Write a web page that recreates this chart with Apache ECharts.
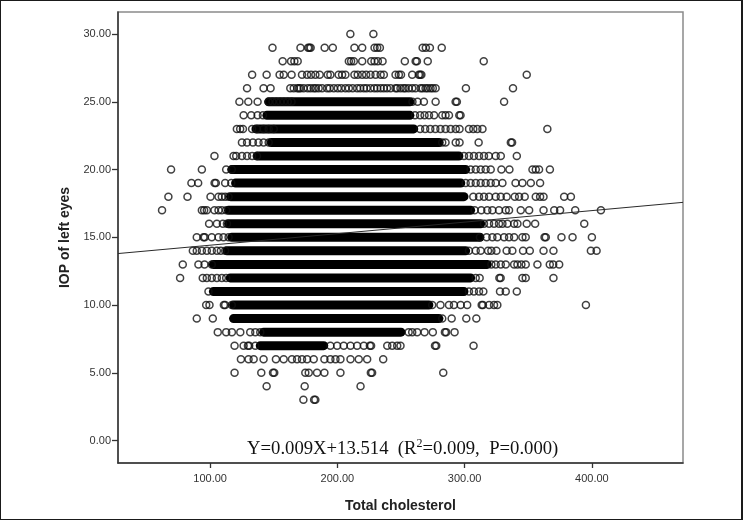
<!DOCTYPE html>
<html><head><meta charset="utf-8">
<script src="https://cdn.jsdelivr.net/npm/echarts@6/dist/echarts.min.js"></script>
<style>html,body{margin:0;padding:0;background:#fff}#c{width:743px;height:520px}#f{position:absolute;left:0;top:0;width:743px;height:520px;box-sizing:border-box;border:solid #1a1a1a;border-width:1px 2px 1px 1px;pointer-events:none}</style>
</head><body><div id="c"></div><div id="f"></div>
<script>
const xTicks=[100,200,300,400];
const yTicks=[0,5,10,15,20,25,30];
const fitX=[27.6,471.6];
const fitY=[13.8,17.58];
const bandLevels=[25,24,23,22,21,20,19,18,17,16,15,14,13,12,11,10,9,8,7];
const bandStarts=[146,144.6,136,148,137,117,120,116,114.5,114.5,117,113.2,102.6,115.8,102.6,118.4,118.4,142,139.4];
const bandEnds=[257,257,260,280,295.5,300.8,297,299.5,304.7,312.6,312,300.8,317.8,304.7,299.5,271.9,279.8,250,189.3];
const row30=[210.2,228.3];
const row29=[149,171,177,178,179,190,196.4,213.4,219.5,229.2,231.3,233.4,267,269.5,272.7,282];
const row28=[157,163.6,166.2,168.8,209,210.8,212.9,219.5,226.6,229.2,231.8,235.5,253,261.5,262.5,271,315];
const row27=[133,144.4,154.6,157.8,164,172.2,176.2,179.3,182.7,186.1,192.4,194.5,201,203.7,206.3,213.4,216,219.5,222.6,226,230,234,236.5,245.7,248.3,250,258.8,264,265,266,348.8];
const row26=[129,142,147.5,163,165.7,168.5,169.8,171,173.5,176.7,179,181.4,183,185.3,188,191.9,194,197.2,200.3,203,206.3,209,212,215.5,218,220.8,223,226,229,231.3,234,236.5,239,241.8,245.7,247,249.6,252,253.5,256,258.8,261.4,265.4,267,269.3,271,273.2,275,277.2,301,338];
const row25=[123,130,137.3,146,149,152,155,158,161,164,259,263,268,277.2,292.9,293.9,331];
const row24=[126.3,132.3,137.3,141.5,261,265,268.5,272,276,282.4,285,287.7,295.8,296.8];
const row23=[121,123.6,125.8,133,136.8,142,146,150,265,269,273,277,281,285,289,293,296,303.4,306.8,310,314,365];
const row22=[125,129,133.6,138,142,146,282.4,285,293,296,311,336.3,337.3];
const row21=[103.4,118.4,120.5,125,129,133,136.8,299.5,303.4,307.3,311.3,315.2,319,324.4,328.4,341];
const row20=[69.3,93.5,112.6,117,304.7,308.7,312.6,316.5,320.5,328.9,335.2,353.3,355.9,358.5,367];
const row19=[85.3,90.6,103.5,104.5,111.8,116.6,300.8,304.7,308.7,312.6,316.5,320.5,324.4,329.7,340,345.4,352,359.3];
const row18=[67.2,82.2,100.3,106.6,109.2,111.8,114.5,306.8,311.3,315.2,319.2,324.4,328.4,333,339.4,342.8,347.2,355.9,359.3,362,378.2,383.5];
const row17=[62.2,93.5,95.3,97.4,103.4,106.6,109.2,112.6,307.9,313.1,317.8,321.8,327,332.3,334.9,344.1,350.7,362,370.4,375,386.9,407.1];
const row16=[99.2,105.3,110,113.2,315.2,319.2,323.1,327,329.7,333.6,338.9,341.5,348.8,355.4,394];
const row15=[89.5,94.8,95.8,101.3,106.6,110.5,114.5,312,317.3,321.8,325.7,331,334.9,338.9,345.4,348,362.8,363.8,376.1,384.8,400];
const row14=[86.4,89.5,93.5,97.4,101.3,105.3,108.4,111.8,303.4,308.7,312.6,318.4,321,325,333,337.5,345.9,351.2,362,369.8,399.2,403.7];
const row13=[78.5,90.8,95.6,101.3,321,324.4,328.4,332.3,338.9,341.5,344.6,348,357.2,366.9,369.6,374.3];
const row12=[76.4,94.2,97.4,101.3,105.3,109.2,112.6,308.7,311.8,327.3,328.3,345.4,348,369.8];
const row11=[98.7,303.4,307.3,311.3,314.7,327.8,332.3,341];
const row10=[96.9,99.5,110.8,111.8,117,274.5,281,287.7,291.6,296.9,302,313.4,314.4,319.2,323.1,325.7,395.3];
const row9=[89.5,102.1,282.4,289.8,301.3,309.2];
const row8=[106,112.6,117.1,123.7,131.5,135.5,139.4,256,258.8,262.7,268.5,275,284.5,285.5,292.1];
const row7=[119.2,126.3,129.7,130.7,135.5,194.5,199.8,205,210.3,215.5,220.8,225.5,226.5,239.2,243.1,247,249.6,276.7,277.7,307];
const row6=[124.2,130.2,134.2,142,151.7,157.8,164.3,168.3,172.2,176.2,181.4,189.8,194.5,198.5,202.4,210.3,216.8,223.4,236];
const row5=[119.2,140.2,149.4,150.4,174.8,177.5,184,189.8,202.4,226.3,227.3,283.2];
const row4=[144.4,174.3,218.2];
const row3=[173.3,181.7,182.7];
const rowLevels=[30,29,28,27,26,25,24,23,22,21,20,19,18,17,16,15,14,13,12,11,10,9,8,7,6,5,4,3];
const rowValues=[row30,row29,row28,row27,row26,row25,row24,row23,row22,row21,row20,row19,row18,row17,row16,row15,row14,row13,row12,row11,row10,row9,row8,row7,row6,row5,row4,row3];

const points=[];
rowLevels.forEach((lv,i)=>rowValues[i].forEach(x=>points.push([x,lv])));
const bands=bandLevels.map((lv,i)=>[bandStarts[i],bandEnds[i],lv]);

const chart=echarts.init(document.getElementById('c'),null,{renderer:'canvas'});
const tickFmt=v=>Number(v).toFixed(2);
const sans='"Liberation Sans",Arial,sans-serif';
const serif='"Liberation Serif","Times New Roman",serif';
chart.setOption({
  animation:false,
  backgroundColor:'#fff',
  grid:{left:118,right:60,top:12,height:451,show:true,borderColor:'#8a8a8a',borderWidth:1.5,backgroundColor:'#fff'},
  xAxis:{type:'value',min:fitX[0],max:fitX[1],splitLine:{show:false},
    name:'Total cholesterol',nameLocation:'middle',nameGap:36,
    nameTextStyle:{fontFamily:sans,fontWeight:'bold',fontSize:14,color:'#222',letterSpacing:1.6},
    axisLine:{show:true,onZero:false,lineStyle:{color:'#333',width:1.5}},
    axisTick:{show:true,length:5,customValues:xTicks,lineStyle:{color:'#333',width:1.3}},
    axisLabel:{customValues:xTicks,formatter:tickFmt,fontFamily:sans,fontSize:11,color:'#333',margin:10}},
  yAxis:{type:'value',min:-1.66,max:31.63,splitLine:{show:false},
    name:'IOP of left eyes',nameLocation:'middle',nameGap:46,
    nameTextStyle:{fontFamily:sans,fontWeight:'bold',fontSize:14,color:'#222',letterSpacing:1},
    axisLine:{show:true,onZero:false,lineStyle:{color:'#333',width:1.5}},
    axisTick:{show:true,length:6,customValues:yTicks,lineStyle:{color:'#333',width:1.3}},
    axisLabel:{customValues:yTicks,formatter:tickFmt,fontFamily:sans,fontSize:11,color:'#333',margin:7}},
  series:[
    {type:'custom',name:'Overplotted band',data:bands,encode:{x:[0,1],y:2},silent:true,z:2,clip:true,
      renderItem:(p,api)=>{
        const a=api.coord([api.value(0),api.value(2)]),b=api.coord([api.value(1),api.value(2)]);
        return {type:'rect',shape:{x:a[0]-4.5,y:a[1]-4.5,width:b[0]-a[0]+9,height:9,r:4.5},style:{fill:'#000'}};
      }},
    {type:'scatter',name:'IOP',data:points,symbol:'circle',symbolSize:7,z:3,silent:true,large:false,
      itemStyle:{color:'rgba(0,0,0,0)',borderColor:'#111',borderWidth:1.5}},
    {type:'line',name:'Fit',data:[[fitX[0],fitY[0]],[fitX[1],fitY[1]]],symbol:'none',z:4,silent:true,
      lineStyle:{color:'#2a2a2a',width:1}}
  ],
  graphic:[{type:'text',left:247,top:438,z:10,silent:true,style:{
    rich:{m:{fontFamily:serif,fontSize:18.7,fill:'#111',height:22},
          s:{fontFamily:serif,fontSize:12,fill:'#111',verticalAlign:'top',height:12}},
    text:'{m|Y=0.009X+13.514  (R}{s|2}{m|=0.009,  P=0.000)}'}}]
});
</script></body></html>
